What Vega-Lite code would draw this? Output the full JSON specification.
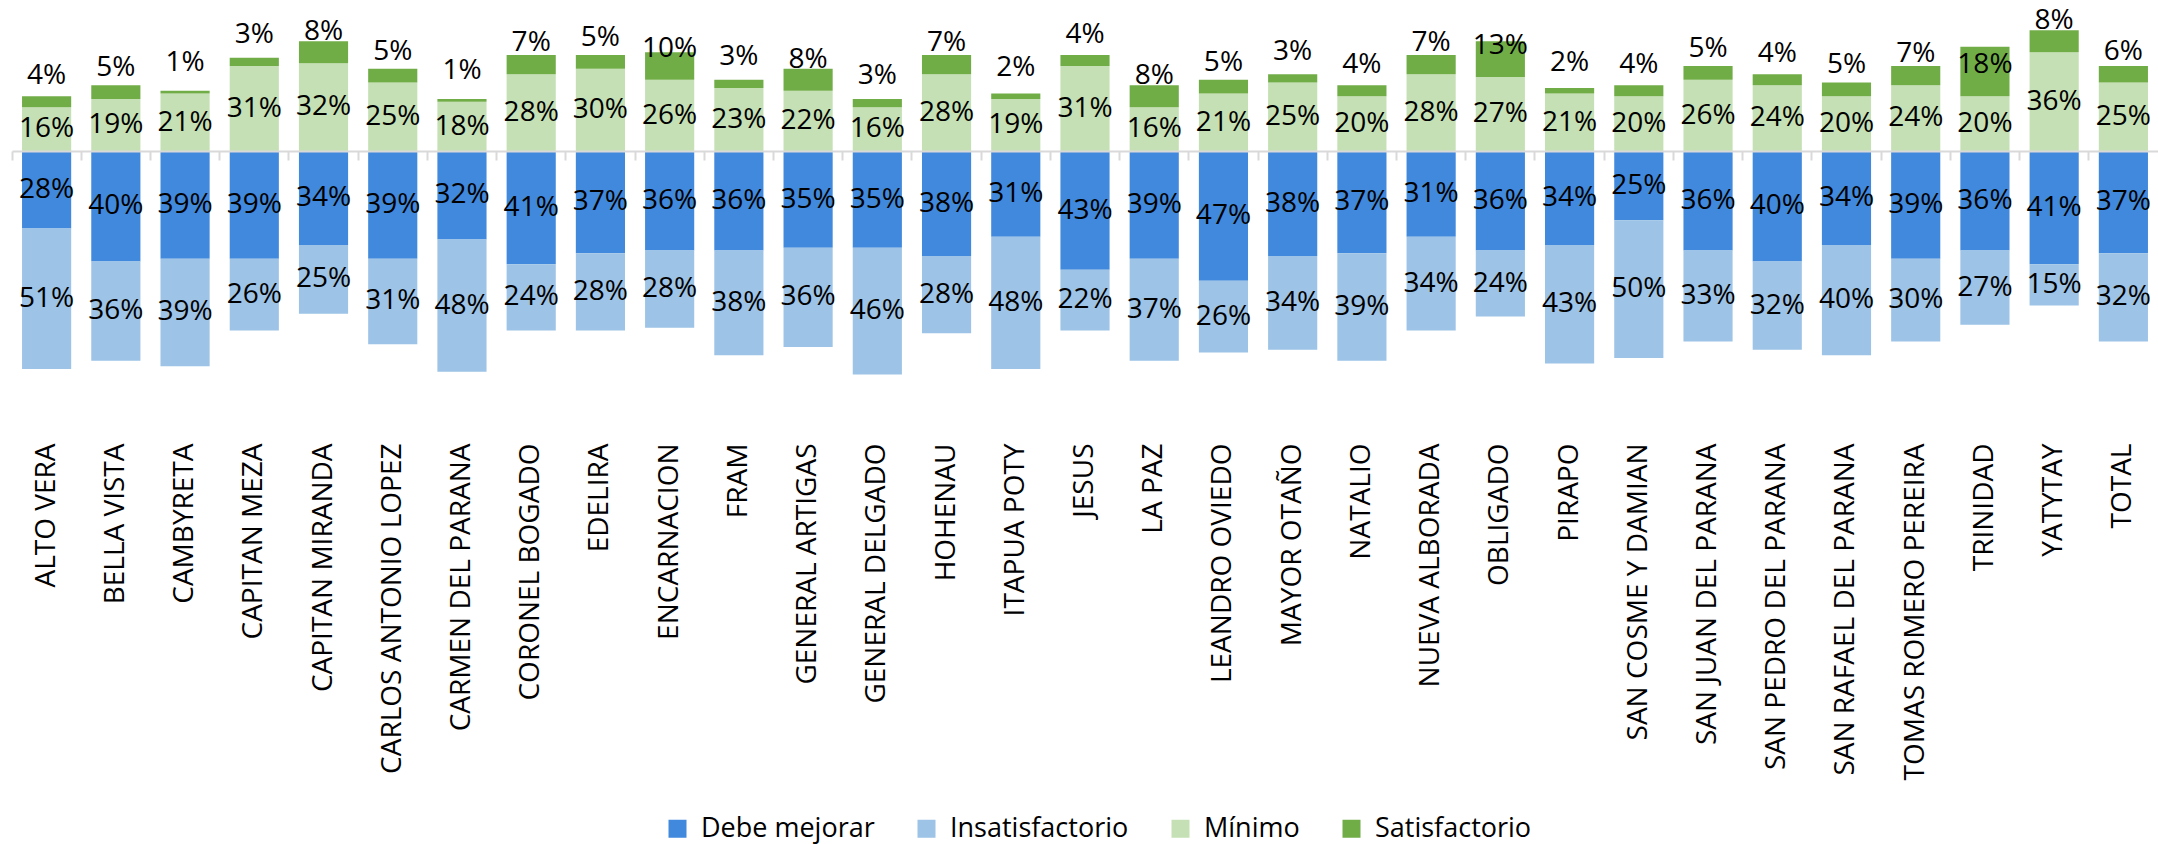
{
  "$schema": "https://vega.github.io/schema/vega-lite/v6.json",
  "autosize": "none",
  "width": 2146,
  "height": 435,
  "padding": {"left": 12, "top": 0, "right": 0, "bottom": 409},
  "background": "white",
  "config": {"view": {"stroke": null}, "font": "Open Sans"},
  "data": {"values": [
    {"m": "ALTO VERA", "Debe mejorar": -28, "Insatisfactorio": -51, "Mínimo": 16, "Satisfactorio": 4},
    {"m": "BELLA VISTA", "Debe mejorar": -40, "Insatisfactorio": -36, "Mínimo": 19, "Satisfactorio": 5},
    {"m": "CAMBYRETA", "Debe mejorar": -39, "Insatisfactorio": -39, "Mínimo": 21, "Satisfactorio": 1},
    {"m": "CAPITAN MEZA", "Debe mejorar": -39, "Insatisfactorio": -26, "Mínimo": 31, "Satisfactorio": 3},
    {"m": "CAPITAN MIRANDA", "Debe mejorar": -34, "Insatisfactorio": -25, "Mínimo": 32, "Satisfactorio": 8},
    {"m": "CARLOS ANTONIO LOPEZ", "Debe mejorar": -39, "Insatisfactorio": -31, "Mínimo": 25, "Satisfactorio": 5},
    {"m": "CARMEN DEL PARANA", "Debe mejorar": -32, "Insatisfactorio": -48, "Mínimo": 18, "Satisfactorio": 1},
    {"m": "CORONEL BOGADO", "Debe mejorar": -41, "Insatisfactorio": -24, "Mínimo": 28, "Satisfactorio": 7},
    {"m": "EDELIRA", "Debe mejorar": -37, "Insatisfactorio": -28, "Mínimo": 30, "Satisfactorio": 5},
    {"m": "ENCARNACION", "Debe mejorar": -36, "Insatisfactorio": -28, "Mínimo": 26, "Satisfactorio": 10},
    {"m": "FRAM", "Debe mejorar": -36, "Insatisfactorio": -38, "Mínimo": 23, "Satisfactorio": 3},
    {"m": "GENERAL ARTIGAS", "Debe mejorar": -35, "Insatisfactorio": -36, "Mínimo": 22, "Satisfactorio": 8},
    {"m": "GENERAL DELGADO", "Debe mejorar": -35, "Insatisfactorio": -46, "Mínimo": 16, "Satisfactorio": 3},
    {"m": "HOHENAU", "Debe mejorar": -38, "Insatisfactorio": -28, "Mínimo": 28, "Satisfactorio": 7},
    {"m": "ITAPUA POTY", "Debe mejorar": -31, "Insatisfactorio": -48, "Mínimo": 19, "Satisfactorio": 2},
    {"m": "JESUS", "Debe mejorar": -43, "Insatisfactorio": -22, "Mínimo": 31, "Satisfactorio": 4},
    {"m": "LA PAZ", "Debe mejorar": -39, "Insatisfactorio": -37, "Mínimo": 16, "Satisfactorio": 8},
    {"m": "LEANDRO OVIEDO", "Debe mejorar": -47, "Insatisfactorio": -26, "Mínimo": 21, "Satisfactorio": 5},
    {"m": "MAYOR OTAÑO", "Debe mejorar": -38, "Insatisfactorio": -34, "Mínimo": 25, "Satisfactorio": 3},
    {"m": "NATALIO", "Debe mejorar": -37, "Insatisfactorio": -39, "Mínimo": 20, "Satisfactorio": 4},
    {"m": "NUEVA ALBORADA", "Debe mejorar": -31, "Insatisfactorio": -34, "Mínimo": 28, "Satisfactorio": 7},
    {"m": "OBLIGADO", "Debe mejorar": -36, "Insatisfactorio": -24, "Mínimo": 27, "Satisfactorio": 13},
    {"m": "PIRAPO", "Debe mejorar": -34, "Insatisfactorio": -43, "Mínimo": 21, "Satisfactorio": 2},
    {"m": "SAN COSME Y DAMIAN", "Debe mejorar": -25, "Insatisfactorio": -50, "Mínimo": 20, "Satisfactorio": 4},
    {"m": "SAN JUAN DEL PARANA", "Debe mejorar": -36, "Insatisfactorio": -33, "Mínimo": 26, "Satisfactorio": 5},
    {"m": "SAN PEDRO DEL PARANA", "Debe mejorar": -40, "Insatisfactorio": -32, "Mínimo": 24, "Satisfactorio": 4},
    {"m": "SAN RAFAEL DEL PARANA", "Debe mejorar": -34, "Insatisfactorio": -40, "Mínimo": 20, "Satisfactorio": 5},
    {"m": "TOMAS ROMERO PEREIRA", "Debe mejorar": -39, "Insatisfactorio": -30, "Mínimo": 24, "Satisfactorio": 7},
    {"m": "TRINIDAD", "Debe mejorar": -36, "Insatisfactorio": -27, "Mínimo": 20, "Satisfactorio": 18},
    {"m": "YATYTAY", "Debe mejorar": -41, "Insatisfactorio": -15, "Mínimo": 36, "Satisfactorio": 8},
    {"m": "TOTAL", "Debe mejorar": -37, "Insatisfactorio": -32, "Mínimo": 25, "Satisfactorio": 6}
  ]},
  "transform": [
    {"fold": ["Debe mejorar", "Insatisfactorio", "Mínimo", "Satisfactorio"], "as": ["nivel", "v"]},
    {"stack": "v", "groupby": ["m"], "sort": [{"field": "nivel", "order": "ascending"}], "as": ["y0", "y1"]},
    {"calculate": "(datum.y0 + datum.y1) / 2", "as": "mid"},
    {"calculate": "abs(datum.v) + '%'", "as": "lbl"}
  ],
  "resolve": {"axis": {"x": "independent"}},
  "layer": [
    {
      "mark": {"type": "bar", "width": {"band": 0.71}},
      "encoding": {
        "x": {"field": "m", "type": "nominal", "sort": null,
              "scale": {"paddingInner": 0, "paddingOuter": 0},
              "axis": {"orient": "bottom", "title": null, "labelAngle": -90, "labelFont": "Open Sans",
                       "labelFontSize": 28, "labelColor": "#000000", "labelPadding": 8, "ticks": false,
                       "domain": false, "labelLimit": 600}},
        "y": {"field": "y0", "type": "quantitative",
              "scale": {"domain": [-103, 55], "nice": false, "zero": false}, "axis": null},
        "y2": {"field": "y1"},
        "color": {"field": "nivel", "type": "nominal",
                  "scale": {"domain": ["Debe mejorar", "Insatisfactorio", "Mínimo", "Satisfactorio"],
                            "range": ["#4189DC", "#9DC3E6", "#C5E0B4", "#70AD47"]},
                  "legend": {"orient": "none", "legendX": 652, "legendY": 815, "direction": "horizontal",
                             "title": null, "symbolType": "square", "symbolSize": 324, "symbolStrokeWidth": 0,
                             "labelFont": "Open Sans", "labelFontSize": 27, "labelColor": "#000000",
                             "labelOffset": 10, "columnPadding": 38, "labelLimit": 400}}
      }
    },
    {
      "transform": [{"filter": "datum.nivel !== 'Satisfactorio'"}],
      "mark": {"type": "text", "font": "Open Sans", "fontSize": 28, "color": "#000000", "baseline": "middle"},
      "encoding": {
        "x": {"field": "m", "type": "nominal", "sort": null,
              "axis": {"orient": "bottom", "offset": -284, "title": null, "labels": false, "ticks": true,
                       "tickColor": "#D9D9D9", "tickSize": 9, "tickWidth": 2, "domainColor": "#D9D9D9",
                       "domainWidth": 2, "bandPosition": 0, "zindex": 1}},
        "y": {"field": "mid", "type": "quantitative"},
        "text": {"field": "lbl"}
      }
    },
    {
      "transform": [{"filter": "datum.nivel === 'Satisfactorio'"}],
      "mark": {"type": "text", "font": "Open Sans", "fontSize": 28, "color": "#000000", "baseline": "middle", "dy": -31},
      "encoding": {
        "x": {"field": "m", "type": "nominal", "sort": null, "axis": null},
        "y": {"field": "y0", "type": "quantitative"},
        "text": {"field": "lbl"}
      }
    }
  ]
}
